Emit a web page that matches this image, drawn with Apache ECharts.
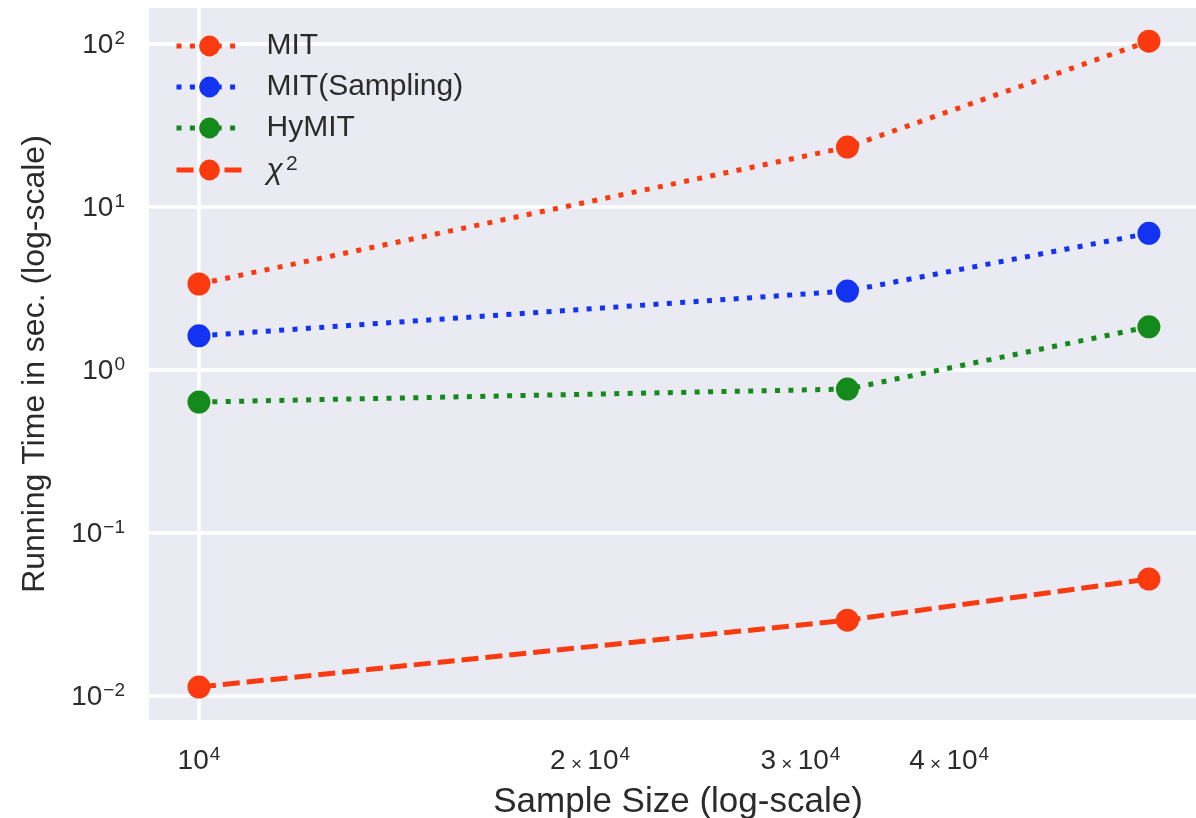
<!DOCTYPE html>
<html><head><meta charset="utf-8">
<script src="https://cdn.jsdelivr.net/npm/echarts@6/dist/echarts.min.js"></script>
<style>html,body{margin:0;padding:0;background:#fff}#c{width:1196px;height:818px}</style>
</head><body><div id="c"></div>
<script>
const sampleSizes = [10000, 30000, 50000];
const mitTimes = [3.37, 23.3, 104];
const mitSamplingTimes = [1.62, 3.05, 6.9];
const hymitTimes = [0.636, 0.764, 1.84];
const chi2Times = [0.01135, 0.0292, 0.0522];
const xTickLabels = [10000, 20000, 30000, 40000];
const xGridValues = [10000];
const yTickValues = [0.01, 0.1, 1, 10, 100];

const FONT = '"Liberation Sans", Arial, sans-serif';
const RED = '#fb3a0f', BLUE = '#1234f2', GREEN = '#138a1b';
const TXT = '#2b2b2b';
// horizontal nudge (px) of each x label, as placed in the reference picture
const xLabelNudge = { 10000: 0, 20000: -18, 30000: -47, 40000: -68 };
const X_MIN = 9188.6, X_MAX = 54152;

function pair(x, y) { return x.map((v, i) => [v, y[i]]); }
function mkSeries(name, ys, color, type) {
  return {
    name, type: 'line', data: pair(sampleSizes, ys),
    symbol: 'circle', symbolSize: 23,
    itemStyle: { color },
    lineStyle: { color, width: 5, type, cap: 'butt' },
    z: 3
  };
}
function xRich(nudge) {
  return {
    b: { fontFamily: FONT, fontSize: 28, color: TXT, verticalAlign: 'bottom', lineHeight: 30 },
    m: { fontFamily: FONT, fontSize: 19, color: TXT, verticalAlign: 'bottom', lineHeight: 30, padding: [0, 0, 1, 0] },
    s: { fontFamily: FONT, fontSize: 19, color: TXT, verticalAlign: 'top', lineHeight: 19, padding: [0, -2 * nudge, 23, 1] }
  };
}
function xLabelText(v) {
  const m = Math.round(v / 10000);
  return m === 1 ? '{b|10}{s|4}' : '{b|' + m + '}{m| × }{b|10}{s|4}';
}
// one label-carrying x axis per tick label so each can be nudged on its own
const xAxes = xTickLabels.map((v, i) => ({
  type: 'log', min: X_MIN, max: X_MAX, position: 'bottom',
  show: true,
  name: i === 0 ? 'Sample Size (log-scale)' : '',
  nameLocation: 'middle', nameGap: 65, nameMoveOverlap: false,
  nameTextStyle: { fontFamily: FONT, fontSize: 35, color: TXT, padding: [0, 0, 0, 11] },
  axisLine: { show: false },
  axisTick: { show: false, customValues: i === 0 ? xGridValues : [v] },
  axisLabel: {
    customValues: [v], margin: 25, hideOverlap: false,
    formatter: xLabelText, rich: xRich(xLabelNudge[v])
  },
  splitLine: { show: i === 0, lineStyle: { color: '#fff', width: 3.5 } }
}));
const yRich = {
  b: { fontFamily: FONT, fontSize: 28, color: TXT, verticalAlign: 'bottom', lineHeight: 30 },
  s: { fontFamily: FONT, fontSize: 19, color: TXT, verticalAlign: 'top', lineHeight: 19, padding: [0, 0, 21, 1] }
};
const chart = echarts.init(document.getElementById('c'), null, { renderer: 'canvas' });
chart.setOption({
  backgroundColor: '#fff',
  animation: false,
  grid: { left: 149, right: 0, top: 8, bottom: 98, show: true, backgroundColor: '#eaeaf2', borderWidth: 0,
          containLabel: false, outerBoundsMode: 'none' },
  legend: {
    left: 174, top: 31, padding: 0, orient: 'vertical', itemWidth: 66, itemHeight: 26, itemGap: 11,
    lineStyle: { width: 5 },
    textStyle: { fontFamily: FONT, fontSize: 30, color: TXT, padding: [0, 0, 0, 19], rich: {
      i: { fontFamily: FONT, fontSize: 30, fontStyle: 'italic', color: TXT, verticalAlign: 'bottom', lineHeight: 32 },
      s: { fontFamily: FONT, fontSize: 21, color: TXT, verticalAlign: 'top', lineHeight: 21, padding: [0, 0, 20, 3] }
    } },
    formatter: n => n === 'chi2' ? '{i|χ}{s|2}' : n,
    data: ['MIT', 'MIT(Sampling)', 'HyMIT', 'chi2']
  },
  xAxis: xAxes,
  yAxis: {
    type: 'log', min: 0.007124, max: 166.3,
    name: 'Running Time in sec. (log-scale)', nameLocation: 'middle', nameGap: 98, nameMoveOverlap: false,
    nameTextStyle: { fontFamily: FONT, fontSize: 32, color: TXT },
    axisLine: { show: false }, axisTick: { show: false, customValues: yTickValues },
    axisLabel: {
      customValues: yTickValues, margin: 24, hideOverlap: false,
      formatter: v => '{b|10}{s|' + Math.round(Math.log10(v)).toString().replace('-', '−') + '}',
      rich: yRich
    },
    splitLine: { show: true, lineStyle: { color: '#fff', width: 3.5 } }
  },
  series: [
    mkSeries('MIT', mitTimes, RED, [5, 8.4]),
    mkSeries('MIT(Sampling)', mitSamplingTimes, BLUE, [5, 8.4]),
    mkSeries('HyMIT', hymitTimes, GREEN, [5, 8.4]),
    mkSeries('chi2', chi2Times, RED, [17, 7])
  ]
});
</script></body></html>
